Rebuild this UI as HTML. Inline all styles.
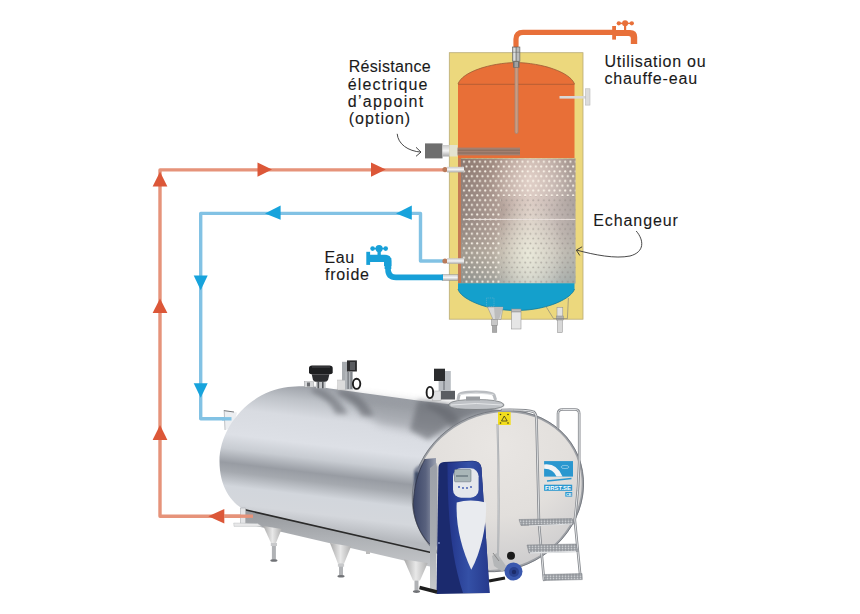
<!DOCTYPE html>
<html><head><meta charset="utf-8">
<style>
html,body{margin:0;padding:0;background:#fff;width:860px;height:614px;overflow:hidden}
svg{display:block}
text{font-family:"Liberation Sans",sans-serif;fill:#1a1a1a}
</style></head><body>
<svg width="860" height="614" viewBox="0 0 860 614">
<defs>
  <linearGradient id="exg" x1="0" y1="0" x2="1" y2="0">
    <stop offset="0" stop-color="#8a7e78"/>
    <stop offset="0.3" stop-color="#a89890"/>
    <stop offset="0.6" stop-color="#d9cbc4"/>
    <stop offset="0.8" stop-color="#c4bab6"/>
    <stop offset="1" stop-color="#a9a3a0"/>
  </linearGradient>
  <linearGradient id="exv" x1="0" y1="0" x2="0" y2="1">
    <stop offset="0" stop-color="#8a6050" stop-opacity="0.25"/>
    <stop offset="0.45" stop-color="#d0b0a8" stop-opacity="0.1"/>
    <stop offset="0.75" stop-color="#e0e8d0" stop-opacity="0.25"/>
    <stop offset="1" stop-color="#8fb0b0" stop-opacity="0.35"/>
  </linearGradient>
  <pattern id="dots" x="461" y="158.5" width="5.33" height="9.6" patternUnits="userSpaceOnUse">
    <circle cx="2.9" cy="3.3" r="1.05" fill="#fbf5ea"/>
    <circle cx="0.24" cy="8.1" r="1.05" fill="#fbf5ea"/>
    <circle cx="5.57" cy="8.1" r="1.05" fill="#fbf5ea"/>
  </pattern>
  <pattern id="ddots" x="461" y="158.5" width="5.33" height="9.6" patternUnits="userSpaceOnUse">
    <circle cx="2.9" cy="3.3" r="0.9" fill="#7d7571" fill-opacity="0.45"/>
    <circle cx="0.24" cy="8.1" r="0.9" fill="#7d7571" fill-opacity="0.45"/>
    <circle cx="5.57" cy="8.1" r="0.9" fill="#7d7571" fill-opacity="0.45"/>
  </pattern>
  <linearGradient id="pipeg" x1="0" y1="0" x2="0" y2="1">
    <stop offset="0" stop-color="#c9c9c9"/>
    <stop offset="0.5" stop-color="#f4f4f4"/>
    <stop offset="1" stop-color="#a9a9a9"/>
  </linearGradient>
</defs>

<!-- ===== circulation pipes ===== -->
<g fill="none" stroke-width="3.4" stroke-linejoin="round">
  <polyline points="443,169.9 160,169.9 160,516.2 253,516.2" stroke="#e6937a"/>
  <polyline points="443,261 420.5,261 420.5,213.4 200.7,213.4 200.7,418.8 231,418.8" stroke="#82c2e4"/>
</g>
<g fill="#dc5738">
  <polygon points="257.5,162.5 272,169.6 257.5,176.7"/>
  <polygon points="371,162.5 385.8,169.6 371,176.7"/>
  <polygon points="152.6,186.5 160,171.8 167.4,186.5"/>
  <polygon points="152.6,313 160,298.5 167.4,313"/>
  <polygon points="152.6,440 160,425 167.4,440"/>
  <polygon points="224.3,509 208.3,516.2 224.3,523.6"/>
</g>
<g fill="#17a3dc">
  <polygon points="280.6,205.5 265,213.4 280.6,219.8"/>
  <polygon points="411.8,205.5 396,213.4 411.8,219.8"/>
  <polygon points="193.7,275.5 207.7,275.5 200.7,290.3"/>
  <polygon points="193.7,383.2 207.7,383.2 200.7,397.8"/>
</g>

<!-- ===== water heater ===== -->
<rect x="449.3" y="52.7" width="133.7" height="266.5" fill="#ecd87d" stroke="#b9ab77" stroke-width="0.8"/>
<!-- orange body -->
<path d="M458,84 C462,72 490,63 516,62.5 C542,63 570,72 574.5,84 L574.5,158 L458,158 Z" fill="#e86f37"/>
<path d="M458,84 C462,72 490,63 516,62.5 C542,63 570,72 574.5,84" fill="none" stroke="#9a5a35" stroke-width="0.8"/>
<line x1="458" y1="84.3" x2="574.5" y2="84.3" stroke="#a85a34" stroke-width="0.8"/>
<!-- exchanger -->
<rect x="458" y="158" width="3.2" height="125.5" fill="#c47a55"/>
<rect x="461" y="158.5" width="114.5" height="125" fill="url(#exg)"/>
<rect x="461" y="158.5" width="114.5" height="125" fill="url(#exv)"/>
<defs>
  <radialGradient id="exh1" gradientUnits="userSpaceOnUse" cx="528" cy="255" r="45" gradientTransform="translate(528 255) scale(0.8 1.3) translate(-528 -255)">
    <stop offset="0" stop-color="#eef0e0" stop-opacity="0.75"/>
    <stop offset="1" stop-color="#eef0e0" stop-opacity="0"/>
  </radialGradient>
  <radialGradient id="exh2" gradientUnits="userSpaceOnUse" cx="530" cy="180" r="40">
    <stop offset="0" stop-color="#ecdcd4" stop-opacity="0.6"/>
    <stop offset="1" stop-color="#ecdcd4" stop-opacity="0"/>
  </radialGradient>
</defs>
<rect x="461" y="158.5" width="114.5" height="125" fill="url(#exh1)"/>
<rect x="461" y="158.5" width="114.5" height="125" fill="url(#exh2)"/>
<rect x="462.4" y="158.5" width="113" height="37.5" fill="url(#dots)"/>
<rect x="462.4" y="196" width="38.1" height="87" fill="url(#dots)"/>
<rect x="500.5" y="196" width="75" height="87" fill="url(#ddots)"/>
<line x1="465.4" y1="219.4" x2="575.5" y2="219.4" stroke="#ece4e0" stroke-width="1"/>
<!-- blue bottom -->
<path d="M458,283.3 L574.5,283.3 L574.5,289 C572,298 548,310.5 516,310.5 C484,310.5 460,298 458,289 Z" fill="#14a0cc"/>
<path d="M574.5,289 C572,298 548,310.5 516,310.5 C484,310.5 460,298 458,289" fill="none" stroke="#127a9c" stroke-width="0.8"/>
<!-- heating rods -->
<rect x="457" y="147.6" width="63" height="7.8" fill="#a38070"/>
<line x1="457" y1="150.2" x2="520" y2="150.2" stroke="#7f6458" stroke-width="0.8"/>
<line x1="457" y1="153" x2="520" y2="153" stroke="#7f6458" stroke-width="0.8"/>
<!-- resistance box -->
<rect x="425" y="143.4" width="17.5" height="15" fill="#6e6e6e"/>
<rect x="442.5" y="145" width="7" height="11.5" fill="url(#pipeg)"/>
<rect x="449.5" y="145" width="8" height="11.5" fill="#e4e2cf"/>
<!-- thermometer rod -->
<rect x="515" y="66" width="3" height="67.5" rx="1.5" fill="#d09a7c" stroke="#8f8a86" stroke-width="0.7"/>
<!-- thermostat T -->
<rect x="559.5" y="96" width="27" height="2.6" fill="#d8d8d8"/>
<rect x="585.5" y="88.8" width="4.5" height="16.3" fill="#dcdcdc" stroke="#b0b0b0" stroke-width="0.5"/>
<!-- fittings -->
<circle cx="445" cy="169.6" r="2.6" fill="#b97a5a"/>
<rect x="447" y="166.8" width="17" height="5.6" fill="url(#pipeg)"/>
<circle cx="445" cy="261" r="2.6" fill="#b97a5a"/>
<rect x="447" y="258.2" width="17" height="5.6" fill="url(#pipeg)"/>
<rect x="442" y="274.5" width="16" height="6" fill="url(#pipeg)" stroke="#888" stroke-width="0.4"/>
<!-- feet -->
<rect x="486.5" y="298" width="7.5" height="8.5" fill="none" stroke="#7fb8d0" stroke-width="0.5" stroke-dasharray="1,0.8"/>
<g stroke="#8a8a8a" stroke-width="0.5">
  <polygon points="487.5,307 503,307 501,319.5 493,319.5" fill="#d9d9d9"/>
  <polygon points="494,307 503,307 499,319.5 495,319.5" fill="#bdbdbd" stroke="none"/>
  <rect x="491.5" y="319.5" width="6" height="6" fill="#c8c8c8"/>
  <rect x="492.3" y="325.5" width="4.5" height="7" fill="#a9a9a9"/>
  <rect x="511.6" y="309" width="9.4" height="3" fill="#bcbcbc"/>
  <rect x="511.6" y="312" width="9.4" height="17" fill="#e6e6e6"/>
  <rect x="557" y="307.4" width="5.8" height="9" fill="#e2e2e2"/>
  <rect x="556.5" y="316" width="6.8" height="4" fill="#b0b0b0"/>
  <rect x="557.5" y="320" width="4.8" height="12.6" fill="#d8d8d8"/>
</g>
<polyline points="546,306.5 553.5,318.6 567.4,318.6 568.4,298" fill="none" stroke="#7a7a7a" stroke-width="0.6"/>

<!-- hot water outlet pipe -->
<path d="M516,50 L516,39 Q516,32.4 523,32.4 L614,32.4" fill="none" stroke="#e8703a" stroke-width="5.2"/>
<rect x="512.5" y="47" width="7.4" height="14.2" fill="#b9bbbb" stroke="#5a5a5a" stroke-width="0.6"/>
<rect x="513.5" y="48" width="2" height="12.5" fill="#dcdede"/>
<line x1="516.2" y1="47" x2="516.2" y2="61" stroke="#555" stroke-width="0.6"/>
<line x1="512.5" y1="52.3" x2="519.9" y2="52.3" stroke="#666" stroke-width="0.5"/>
<rect x="513" y="61.2" width="6.5" height="6.5" fill="#6e6e6e"/>
<rect x="514.5" y="62" width="3.5" height="5" fill="#a0a0a0"/>
<!-- orange faucet -->
<g fill="#e8703a">
  <rect x="612.2" y="26" width="3.8" height="13.6"/>
  <path d="M615,29.9 L630,29.9 Q637.2,29.9 637.2,37 L637.2,43.9 L630.8,43.9 L630.8,38 Q630.8,36 628.5,36 L615,36 Z"/>
  <rect x="624" y="23" width="2.2" height="7.5"/>
  <rect x="619" y="22.6" width="12.5" height="1.5"/>
  <circle cx="625.1" cy="23.35" r="3"/>
  <circle cx="618.8" cy="23.35" r="2.15"/>
  <circle cx="631.8" cy="23.35" r="2.15"/>
</g>
<!-- blue inlet pipe + faucet -->
<path d="M388,258 L388,269 Q388,277.4 396,277.4 L443,277.4" fill="none" stroke="#17a0d8" stroke-width="5.6"/>
<rect x="384.6" y="258" width="6.7" height="11" fill="#17a0d8"/>
<g fill="#17a0d8">
  <rect x="366.3" y="251.8" width="3.8" height="13.1"/>
  <path d="M370,254.7 L385,254.7 Q391.4,254.7 391.4,261 L391.4,266 L384,266 L384,262 L370,262 Z"/>
  <rect x="377.5" y="248" width="3.3" height="7.5"/>
  <rect x="372.6" y="247.8" width="13.1" height="1.6"/>
  <circle cx="379.1" cy="248.6" r="3.6"/>
  <circle cx="372.6" cy="248.6" r="2.3"/>
  <circle cx="385.7" cy="248.6" r="2.3"/>
</g>

<!-- curved pointer arrows -->
<g fill="none" stroke="#333" stroke-width="0.9">
  <path d="M397.2,133.8 C398,144 408,151.2 421,152.1"/>
  <path d="M416,147.3 L421,152.1 L416,156.3"/>
  <path d="M636.2,231 C644,240 645,252 630,256 C615,259 595,255 577,250.2"/>
  <path d="M582.1,246.8 L576.3,250.1 L579.8,255.5"/>
</g>

<!-- labels -->
<g font-size="16" stroke="#1a1a1a" stroke-width="0.1">
  <text x="348.70" y="72.3" textLength="82.06" lengthAdjust="spacing">Résistance</text>
  <text x="347.70" y="89.5" textLength="79.8" lengthAdjust="spacing">électrique</text>
  <text x="347.70" y="106.7" textLength="75.55" lengthAdjust="spacing">d’appoint</text>
  <text x="348.70" y="123.5" textLength="61.46" lengthAdjust="spacing">(option)</text>
  <text x="604.40" y="66.9" textLength="101.2" lengthAdjust="spacing">Utilisation ou</text>
  <text x="604.40" y="84.3" textLength="92.8" lengthAdjust="spacing">chauffe-eau</text>
  <text x="593.15" y="225.7" textLength="84.8" lengthAdjust="spacing">Echangeur</text>
  <text x="324.60" y="263" textLength="29.5" lengthAdjust="spacing">Eau</text>
  <text x="324.90" y="280.2" textLength="44.1" lengthAdjust="spacing">froide</text>
</g>

<!-- ===== milk tank ===== -->

<g id="tank">
  <defs>
    <linearGradient id="bodyg" gradientUnits="userSpaceOnUse" x1="300" y1="385" x2="283" y2="527">
      <stop offset="0" stop-color="#9ca0a7"/>
      <stop offset="0.1" stop-color="#bdc1c7"/>
      <stop offset="0.22" stop-color="#d8dbe1"/>
      <stop offset="0.4" stop-color="#dde0e6"/>
      <stop offset="0.5" stop-color="#c8ccd2"/>
      <stop offset="0.6" stop-color="#989ca3"/>
      <stop offset="0.66" stop-color="#a5a9af"/>
      <stop offset="0.76" stop-color="#d2d6dc"/>
      <stop offset="0.88" stop-color="#d4d7dc"/>
      <stop offset="1" stop-color="#b6b9be"/>
    </linearGradient>
    <radialGradient id="faceg" gradientUnits="userSpaceOnUse" cx="520" cy="450" r="120">
      <stop offset="0" stop-color="#e9e6e3"/>
      <stop offset="0.6" stop-color="#e2dfdc"/>
      <stop offset="1" stop-color="#cfcecf"/>
    </radialGradient>
    <linearGradient id="rimg" x1="0" y1="0" x2="0" y2="1">
      <stop offset="0" stop-color="#c0c4ca"/>
      <stop offset="0.4" stop-color="#4a5068"/>
      <stop offset="0.8" stop-color="#3a4058"/>
      <stop offset="1" stop-color="#9aa0a8"/>
    </linearGradient>
    <linearGradient id="frameg" x1="0" y1="0" x2="0" y2="1">
      <stop offset="0" stop-color="#94979b"/>
      <stop offset="0.5" stop-color="#aeb1b5"/>
      <stop offset="1" stop-color="#c4c6c9"/>
    </linearGradient>
    <linearGradient id="blueg" x1="0" y1="0" x2="1" y2="0">
      <stop offset="0" stop-color="#22337a"/>
      <stop offset="0.35" stop-color="#3a55b0"/>
      <stop offset="0.7" stop-color="#2e4596"/>
      <stop offset="1" stop-color="#23357e"/>
    </linearGradient>
    <linearGradient id="legg" x1="0" y1="0" x2="1" y2="0">
      <stop offset="0" stop-color="#a8a8a8"/>
      <stop offset="0.5" stop-color="#e8e8e8"/>
      <stop offset="1" stop-color="#b0b0b0"/>
    </linearGradient>
    <filter id="blur2" x="-50%" y="-50%" width="200%" height="200%"><feGaussianBlur stdDeviation="2.5"/></filter>
    <filter id="blur1" x="-50%" y="-50%" width="200%" height="200%"><feGaussianBlur stdDeviation="1"/></filter>
  </defs>
  <!-- back bracket where blue pipe attaches -->
  <polygon points="223.8,410.5 237,412.5 233,428 225,430" fill="#eceef1"/>
  <line x1="223.8" y1="410.6" x2="234" y2="412" stroke="#55585c" stroke-width="0.8"/>
  <line x1="224.2" y1="411" x2="225" y2="430" stroke="#9a9da2" stroke-width="0.6"/>
  <line x1="222" y1="418.8" x2="231.5" y2="418.8" stroke="#82c2e4" stroke-width="3.4"/>
  <!-- cylinder body -->
  <path d="M288,387 C300,385.5 316,386 330,388.5 L425,401.5 L505,410.5 L505,567 L432,553 L249,512 C232,505 219.5,488 219.5,461 C219.5,428 248,392 288,387 Z" fill="url(#bodyg)"/>
  <!-- knob shadows on top -->
  <filter id="blur3" x="-50%" y="-50%" width="200%" height="200%"><feGaussianBlur stdDeviation="4"/></filter>
  <g fill="#60646a">
    <path d="M335,392 L425,403 L470,411 L445,438 L380,425 Z" opacity="0.3" filter="url(#blur3)"/>
    <path d="M312,388 Q322,388 330,394 Q342,402 348,414 L336,414 Q330,400 312,392 Z" opacity="0.55" filter="url(#blur2)"/>
    <path d="M338,390 Q350,390 358,396 Q368,404 374,416 L362,416 Q356,402 338,394 Z" opacity="0.55" filter="url(#blur2)"/>
    <path d="M426,402 Q440,403 450,410 Q460,418 466,430 L452,430 Q446,416 426,407 Z" opacity="0.5" filter="url(#blur2)"/>
    <path d="M418,400 L506,410 L480,414 L450,424 L428,440 L410,430 Z" opacity="0.55" filter="url(#blur2)"/>
  </g>
  <!-- frame -->
  <polygon points="243,509 432,552.5 432,567 243,523" fill="url(#frameg)"/>
  <line x1="243" y1="509.3" x2="432" y2="552.8" stroke="#2a2a2a" stroke-width="1.6"/>
  <!-- outlet bracket -->
  <rect x="240.5" y="508" width="5.2" height="16.6" fill="#e4e5e7" stroke="#a0a2a6" stroke-width="0.5"/>
  <polygon points="233.7,523 257.6,523.5 262,526.4 234,526.4" fill="#e8e9ea" stroke="#b0b2b5" stroke-width="0.4"/>
  <line x1="224" y1="516.2" x2="253" y2="516.2" stroke="#e6937a" stroke-width="3.4"/>
  <!-- legs -->
  <g>
    <polygon points="263.3,526 281.6,529 276,543 271,543" fill="url(#legg)"/>
    <rect x="271.9" y="543" width="4" height="17" fill="#b0b2b5"/>
    <rect x="270.8" y="543" width="6.2" height="3" fill="#c8c9cb"/>
    <ellipse cx="273.9" cy="560.5" rx="3.6" ry="1.3" fill="#707276"/>
    <polygon points="330,543 351,546.5 344,563.7 338,563.7" fill="url(#legg)"/>
    <rect x="339" y="563.7" width="4" height="12" fill="#b0b2b5"/>
    <rect x="337.9" y="563.7" width="6.2" height="3" fill="#c8c9cb"/>
    <ellipse cx="341" cy="576.3" rx="3.6" ry="1.3" fill="#707276"/>
    <polygon points="404,559.5 427.7,563 420,580.5 413,580.5" fill="url(#legg)"/>
    <rect x="414.5" y="580.5" width="4" height="10.5" fill="#b0b2b5"/>
    <ellipse cx="416.5" cy="591.6" rx="3.6" ry="1.3" fill="#707276"/>
    <rect x="366" y="551" width="4" height="3" fill="#bbb"/>
  </g>
  <!-- front face -->
  <ellipse cx="497.9" cy="491" rx="86.8" ry="77.9" transform="rotate(-28.3 497.9 491)" fill="url(#faceg)" stroke="#9ea1a6" stroke-width="2.2"/>
  <ellipse cx="497.9" cy="491" rx="87.6" ry="78.7" transform="rotate(-28.3 497.9 491)" fill="none" stroke="#6a6e76" stroke-width="0.7"/>
  <path d="M414,470 C412,500 418,525 431,546 L437,546 L437,466 C430,462 420,462 414,470 Z" fill="#7d8496" filter="url(#blur1)"/>
  <path d="M415,472 C414,500 419,522 430,543 L426,520 C421,505 419,490 419,472 Z" fill="#3e4868" filter="url(#blur1)"/>
  <!-- manhole + valves -->
  <path d="M449,404 Q452,399.5 476,399.5 Q500,399.5 503.7,404 L503.7,406 Q500,409.5 476,409.5 Q452,409.5 449,406 Z" fill="#bfc2c6" stroke="#6f7276" stroke-width="0.7"/>
  <path d="M451,405 Q476,402 502,405" fill="none" stroke="#e4e6e8" stroke-width="1"/>
  <path d="M458,400 L459,395 Q460,392 476,392 Q492,392 494,395 L495.6,400" fill="none" stroke="#b9bcc0" stroke-width="3"/>
  <path d="M459.5,394.5 Q476,391.5 493.5,394.5" fill="none" stroke="#dfe1e3" stroke-width="1"/>
  <rect x="466" y="396.5" width="14" height="4" fill="#9a9da1"/>
  <!-- knob -->
  <rect x="304.3" y="381.8" width="9.3" height="5.5" fill="#d4d6d8" stroke="#8a8c90" stroke-width="0.4"/>
  <rect x="307" y="382.5" width="3" height="4" fill="#6a6c70"/>
  <path d="M309,368 Q309,365.5 312,365.5 L329.5,365.5 Q332.7,365.5 332.7,368 L332.7,372.5 Q332.7,374.3 330,374.3 L311.5,374.3 Q309,374.3 309,372.5 Z" fill="#1e1f21"/>
  <path d="M312,367 L330,367" stroke="#55575a" stroke-width="0.8"/>
  <path d="M311.7,374.3 L329.4,374.3 L328,380 Q327,382 324,382 L317,382 Q314,382 313,380 Z" fill="#2c2d30"/>
  <rect x="316" y="381.8" width="9.7" height="6.5" fill="#c4c6c9"/>
  <rect x="317.5" y="382" width="1.6" height="6.3" fill="#55585c"/>
  <rect x="322" y="382" width="1.6" height="6.3" fill="#55585c"/>
  <!-- valve 1 -->
  <rect x="337.8" y="380" width="7.4" height="10" fill="#dcdcdc" stroke="#aaa" stroke-width="0.4"/>
  <rect x="342" y="361.8" width="6" height="18.5" fill="#a8acb0"/>
  <rect x="345" y="371.5" width="8" height="18" fill="#b2b6ba"/>
  <rect x="347.5" y="372" width="1.2" height="17" fill="#6e7278"/>
  <rect x="350.5" y="372" width="1.2" height="17" fill="#6e7278"/>
  <rect x="347" y="360.4" width="9.9" height="11.1" fill="#2c2c2e"/>
  <rect x="350" y="362" width="5" height="8" fill="#5a5c60"/>
  <ellipse cx="356.6" cy="383.8" rx="3.7" ry="5.1" fill="none" stroke="#1e1e1e" stroke-width="1.9"/>
  <!-- valve 2 -->
  <rect x="432.8" y="391" width="8.2" height="9.7" fill="#e0e1e3" stroke="#999" stroke-width="0.4"/>
  <rect x="441" y="390.8" width="14" height="8.7" fill="#5a5d62"/>
  <rect x="438.6" y="371" width="12.2" height="20" fill="#b9bdc2"/>
  <rect x="443" y="372" width="2" height="18" fill="#8e9298"/>
  <rect x="434" y="368.7" width="11" height="12.3" fill="#2a2b2d"/>
  <ellipse cx="429.9" cy="392.5" rx="3.3" ry="5.6" fill="none" stroke="#1e1e1e" stroke-width="1.9"/>
  <!-- warning sticker -->
  <rect x="498" y="412" width="12.7" height="13" fill="#f2dd1c"/>
  <path d="M501.5,421 L504.3,416 L507.2,421 Z" fill="none" stroke="#3a3a20" stroke-width="0.8"/>
  <circle cx="500.5" cy="414.5" r="0.8" fill="#3a3a20"/><circle cx="508" cy="414.5" r="0.8" fill="#3a3a20"/><circle cx="500.5" cy="423" r="0.8" fill="#3a3a20"/><circle cx="508" cy="423" r="0.8" fill="#3a3a20"/>
  <!-- face pipe + inner rail -->
  <path d="M497.5,424 Q499.5,490 498,556" fill="none" stroke="#a4a7ab" stroke-width="2"/>
  <path d="M497.5,424 Q499.5,490 498,556" fill="none" stroke="#d8dadc" stroke-width="0.6"/>
  <!-- logo -->
  <rect x="544.1" y="461.1" width="28.9" height="15.5" fill="#2a97cf"/>
  <path d="M544.1,464.5 Q557,463 562.5,476.6 L556.5,476.6 Q553,468.5 544.1,468.8 Z" fill="#f2f4f6"/>
  <ellipse cx="565" cy="467" rx="4" ry="1.6" fill="none" stroke="#d8ecf6" stroke-width="0.5"/>
  <path d="M547,481 Q560,479.5 571.5,478.5" fill="none" stroke="#2a97cf" stroke-width="1.4"/>
  <rect x="544.1" y="484.7" width="28.1" height="6.1" fill="#2a97cf"/>
  <text x="545" y="490.3" font-size="5.6" font-weight="bold" style="fill:#fff" textLength="26" lengthAdjust="spacingAndGlyphs">FIRST.SE</text>
  <rect x="565.3" y="492" width="6.9" height="4.6" fill="#2a97cf"/>
  <text x="566" y="496.2" font-size="4.4" font-weight="bold" style="fill:#fff" textLength="5.5" lengthAdjust="spacingAndGlyphs">CE</text>
  <!-- ladder -->
  <defs>
    <pattern id="grate" width="3" height="2.5" patternUnits="userSpaceOnUse">
      <rect width="3" height="2.5" fill="#8d9196"/>
      <rect x="0.6" y="0.5" width="1.8" height="1.4" fill="#d9dbde"/>
    </pattern>
  </defs>
  <g fill="none" stroke-linecap="round">
    <path d="M502,410 Q528,409.5 534,412 Q536.5,414 536.5,420 L539,524 L544,580" stroke="#85888d" stroke-width="2.6"/>
    <path d="M502,410 Q528,409.5 534,412 Q536.5,414 536.5,420 L539,524 L544,580" stroke="#dfe1e3" stroke-width="1"/>
    <path d="M558,428 L558,413.5 Q558,409.5 562.5,409.5 L575,409.5 Q579.2,409.5 579.2,413.5 L579.2,463 Q578.5,490 574.8,520 L580.5,578" stroke="#85888d" stroke-width="2.6"/>
    <path d="M558,428 L558,413.5 Q558,409.5 562.5,409.5 L575,409.5 Q579.2,409.5 579.2,413.5 L579.2,463 Q578.5,490 574.8,520 L580.5,578" stroke="#e4e6e8" stroke-width="1"/>
  </g>
  <g stroke="#7d8186" stroke-width="0.5">
    <polygon points="519,519.5 572,518.5 574.5,524 521,525.5" fill="url(#grate)"/>
    <polygon points="527,545 576,544 578.2,551.5 529,553" fill="url(#grate)"/>
    <polygon points="543.6,574.5 582,573.5 582.3,579.6 545,580.5" fill="url(#grate)"/>
  </g>
  <path d="M529,526 L572,524" stroke="#e0e2e4" stroke-width="1.2"/>
  <path d="M530,553 L576,551.5" stroke="#e0e2e4" stroke-width="1.4"/>
  <!-- control unit -->
  <defs>
    <linearGradient id="panelg" x1="0" y1="0" x2="0" y2="1">
      <stop offset="0" stop-color="#9ca0a8"/>
      <stop offset="0.6" stop-color="#a8acb2"/>
      <stop offset="1" stop-color="#c9cbce"/>
    </linearGradient>
    <linearGradient id="frontg" x1="0" y1="0" x2="1" y2="0">
      <stop offset="0" stop-color="#22348a"/>
      <stop offset="0.5" stop-color="#3450a6"/>
      <stop offset="1" stop-color="#26398c"/>
    </linearGradient>
  </defs>
  <defs><linearGradient id="rimrefl" x1="0" y1="0" x2="1" y2="0">
    <stop offset="0" stop-color="#3a4466"/>
    <stop offset="0.55" stop-color="#59627e"/>
    <stop offset="1" stop-color="#9aa0b0"/>
  </linearGradient></defs>
  <path d="M425,459 C418,472 414,486 413.3,504 C413.5,518 419,533 430,544.5 L436,546 L436,458 Z" fill="url(#rimrefl)"/>
  <path d="M425,459 C418,472 414,486 413.3,504 C413.5,518 419,533 430,544.5" fill="none" stroke="#2e3448" stroke-width="0.8"/>
  <polygon points="430,468 436.5,463 436.5,594 430,590" fill="url(#panelg)"/>
  <path d="M436.5,594 L438.5,467 Q439,462.5 444,462 L472,460.8 Q480.5,460.5 481.5,468 L489.6,593 Z" fill="#1b2a6e"/>
  <path d="M447.5,463 L472,461.2 Q480.5,460.8 481.5,468 L489.6,593 L463,593 C452,560 447.5,520 447.5,463 Z" fill="url(#frontg)"/>
  <rect x="453" y="468.3" width="25.6" height="29.4" rx="8" fill="#e4e7ec"/>
  <rect x="454.5" y="469.5" width="16.5" height="12.3" rx="1" fill="#a9b6b8" stroke="#5f6c78" stroke-width="0.5"/>
  <rect x="456" y="475" width="12" height="2" fill="#7c8a90"/>
  <g fill="#3a55b0"><circle cx="459" cy="487" r="0.9"/><circle cx="463" cy="488" r="0.9"/><circle cx="467" cy="488" r="0.9"/><circle cx="471" cy="487" r="0.9"/></g>
  <path d="M456.7,502.5 Q470,498.5 486,502.5 C487,522 482,550 471.3,569.7 C462,550 455.5,526 456.7,502.5 Z" fill="#e9ebef"/>
  <circle cx="439" cy="543" r="0.9" fill="#8899cc"/>
  <!-- drain valve + pump -->
  <line x1="419.5" y1="587.5" x2="437" y2="592" stroke="#1e1e1e" stroke-width="3.6"/>
  <line x1="489" y1="581" x2="505" y2="578" stroke="#1e1e1e" stroke-width="3.2"/>
  <circle cx="511" cy="555.7" r="4" fill="#1a1a1a"/>
  <polygon points="492,556 497,553 506,566 503,572 494,566" fill="#b4b6b8"/>
  <line x1="493" y1="553" x2="499" y2="561" stroke="#888" stroke-width="1"/>
  <circle cx="513.5" cy="571.5" r="9" fill="#3a58ae"/>
  <circle cx="514" cy="572" r="5" fill="#2a4290"/>
  <circle cx="514" cy="572" r="2.2" fill="#1c2c6a"/>
</g>

</svg>
</body></html>
